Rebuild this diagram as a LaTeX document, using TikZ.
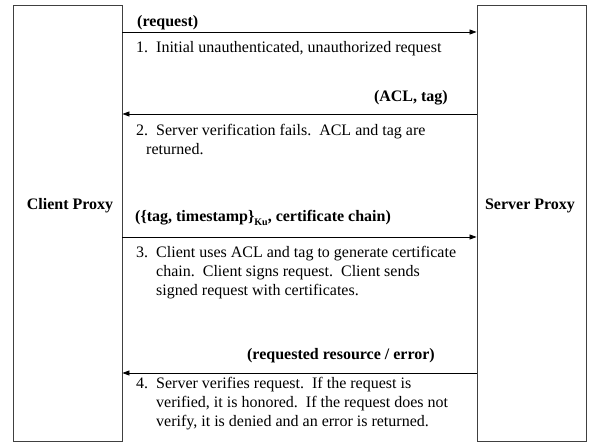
\documentclass[tikz,border=0pt]{standalone}
\usepackage{fontspec}
\setmainfont{Liberation Serif}
\usetikzlibrary{arrows.meta}
\begin{document}
\begin{tikzpicture}[x=1pt,y=-1pt,
  box/.style={draw=black!75, line width=0.9pt, inner sep=0pt},
  msg/.style={draw=black, line width=0.8pt, -{Triangle[length=7pt,width=5pt]}},
  lbl/.style={inner sep=0pt, font=\fontsize{16}{19}\selectfont\bfseries},
  txt/.style={inner sep=0pt, anchor=base west, font=\fontsize{16}{19}\selectfont}]
\useasboundingbox (0,0) rectangle (589,443);
\node[box, minimum width=109pt, minimum height=436pt] (L) at (67.5,223) {};
\node[box, minimum width=109pt, minimum height=436pt] (R) at (531.5,223) {};
\node[lbl, anchor=base] (cp) at (70,210) {Client Proxy};
\node[lbl, anchor=base] (sp) at (530,210) {Server Proxy};
% messages
\draw[msg] (L.east |- 0,32) -- (R.west |- 0,32);
\draw[msg] (R.west |- 0,114) -- (L.east |- 0,114);
\draw[msg] (L.east |- 0,237) -- (R.west |- 0,237);
\draw[msg] (R.west |- 0,373) -- (L.east |- 0,373);
% labels
\node[lbl, anchor=base west] (m1) at (137,27) {(request)};
\node[lbl, anchor=base east] (m2) at (448,102) {(ACL, tag)};
\node[lbl, anchor=base west] (m3) at (135,222) {(\{tag, timestamp\}\raisebox{-4pt}{\fontsize{10}{10}\selectfont Ku}, certificate chain)};
\node[lbl, anchor=base east] (m4) at (435,360) {(requested resource / error)};
% step 1
\node[txt] (n1) at (136,53) {1.};
\node[txt] (t1a) at (156,53) {Initial unauthenticated, unauthorized request};
% step 2
\node[txt] (n2) at (136,136) {2.};
\node[txt] (t2a) at (156,136) {Server verification fails.\ \ ACL and tag are};
\node[txt] (t2b) at (146,155) {returned.};
% step 3
\node[txt] (n3) at (136,258) {3.};
\node[txt] (t3a) at (156,258) {Client uses ACL and tag to generate certificate};
\node[txt] (t3b) at (156,277) {chain.\ \ Client signs request.\ \ Client sends};
\node[txt] (t3c) at (156,296) {signed request with certificates.};
% step 4
\node[txt] (n4) at (136,389) {4.};
\node[txt] (t4a) at (156,389) {Server verifies request.\ \ If the request is};
\node[txt] (t4b) at (156,408) {verified, it is honored.\ \ If the request does not};
\node[txt] (t4c) at (156,427) {verify, it is denied and an error is returned.};
\end{tikzpicture}
\end{document}
